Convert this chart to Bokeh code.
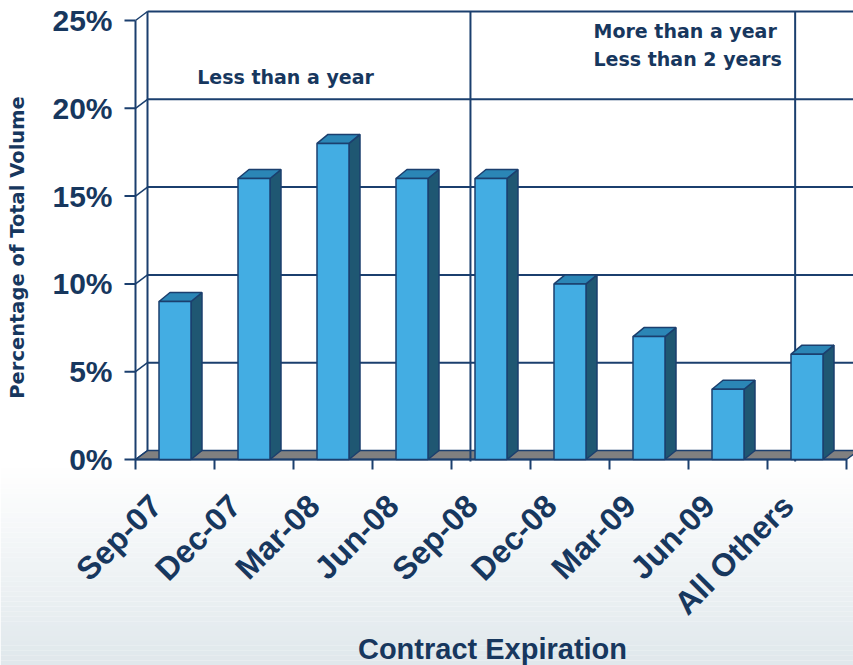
import numpy as np
from bokeh.plotting import figure
from bokeh.models import Range1d
from bokeh.core.properties import value
from bokeh.embed import file_html
from bokeh.resources import INLINE

# ---- data ----
categories = ["Sep-07", "Dec-07", "Mar-08", "Jun-08", "Sep-08",
              "Dec-08", "Mar-09", "Jun-09", "All Others"]
volume_pct = [9, 16, 18, 16, 16, 10, 7, 4, 6]
y_ticks = [0, 5, 10, 15, 20, 25]
y_tick_labels = ["0%", "5%", "10%", "15%", "20%", "25%"]
period_labels = ["Less than a year", "More than a year", "Less than 2 years"]
period_breaks = [4.24, 8.35]

# ---- layout (pixel geometry -> data units) ----
W, H = 853, 665
X0, CW = 135.0, 79.0          # x pixel of category 0 edge, pixels per category
Y0, PU = 459.0, 17.56         # y pixel of 0%, pixels per percent
def ux(px): return px / CW
def uy(px): return px / PU

x_lo, x_hi = -X0 / CW, (W - X0) / CW
y_lo, y_hi = -(H - Y0) / PU, Y0 / PU

WDX, WDY = ux(12), uy(9)      # wall depth
BDX, BDY = ux(11), uy(9)      # bar depth
HW = ux(16)                   # bar half width
NCAT = len(categories)
YMAX = y_ticks[-1]

NAVY = "#1B3F6E"
TEXT = "#17375E"
FRONT = "#43ADE3"
SIDE = "#1F5772"
TOP = "#2B86B6"
FLOOR = "#808080"

p = figure(width=W, height=H, x_range=Range1d(x_lo, x_hi), y_range=Range1d(y_lo, y_hi),
           output_backend="svg", toolbar_location=None, title=None,
           x_axis_location=None, y_axis_location=None, min_border=0)
p.grid.visible = False
p.outline_line_color = None
p.background_fill_color = "white"
p.border_fill_color = "white"

# background gradient in lower part
g_top, g_bot = 468.0, float(H)
n_strips = 40
c0 = np.array([255, 255, 255]); c1 = np.array([224, 232, 236])
edges = np.linspace(g_top, g_bot, n_strips + 1)
cols = []
for k in range(n_strips):
    t = (k + 0.5) / n_strips
    c = (c0 + (c1 - c0) * t).astype(int)
    cols.append("#%02x%02x%02x" % tuple(c))
p.quad(left=x_lo, right=x_hi, top=[(Y0 - e) / PU for e in edges[:-1]],
       bottom=[(Y0 - e) / PU for e in edges[1:]], fill_color=cols, line_color=None)

# floor
p.patch(x=[0, WDX, NCAT + WDX, NCAT], y=[0, WDY, WDY, 0], fill_color=FLOOR,
        line_color=NAVY, line_width=1.5)

# back wall gridlines
gl = [v for v in y_ticks if v > 0]
p.segment(x0=[WDX] * len(gl), y0=[v + WDY for v in gl], x1=[x_hi] * len(gl),
          y1=[v + WDY for v in gl], line_color=NAVY, line_width=2)
# side wall connectors
p.segment(x0=[0] * len(y_ticks), y0=y_ticks, x1=[WDX] * len(y_ticks),
          y1=[v + WDY for v in y_ticks], line_color=NAVY, line_width=1.5)
# y tick marks
p.segment(x0=[ux(-11)] * len(y_ticks), y0=y_ticks, x1=[0] * len(y_ticks), y1=y_ticks,
          line_color=NAVY, line_width=2)
# front axis and back-left edge
p.segment(x0=[0, WDX], y0=[0, WDY], x1=[0, WDX], y1=[YMAX, YMAX + WDY],
          line_color=NAVY, line_width=2)
# front bottom edge
p.segment(x0=[0], y0=[0], x1=[NCAT], y1=[0], line_color=NAVY, line_width=2)
# x tick marks at category boundaries
bounds = list(range(NCAT + 1))
p.segment(x0=bounds, y0=[0] * len(bounds), x1=bounds, y1=[uy(-10)] * len(bounds),
          line_color=NAVY, line_width=2)

# period dividers
p.segment(x0=period_breaks, y0=[uy(-2)] * 2, x1=period_breaks, y1=[YMAX + WDY] * 2,
          line_color=NAVY, line_width=2)

# bars (3D)
centers = [i + 0.5 for i in range(NCAT)]
xl = [c - HW for c in centers]
xr = [c + HW for c in centers]
side_xs = [[r, r + BDX, r + BDX, r] for r in xr]
side_ys = [[0, BDY, v + BDY, v] for v in volume_pct]
top_xs = [[l, l + BDX, r + BDX, r] for l, r in zip(xl, xr)]
top_ys = [[v, v + BDY, v + BDY, v] for v in volume_pct]
p.patches(xs=side_xs, ys=side_ys, fill_color=SIDE, line_color=NAVY, line_width=1.5)
p.patches(xs=top_xs, ys=top_ys, fill_color=TOP, line_color=NAVY, line_width=1.5)
p.quad(left=xl, right=xr, bottom=0, top=volume_pct, fill_color=FRONT,
       line_color=NAVY, line_width=1.5)

# y tick labels
p.text(x=[ux(-23)] * len(y_ticks), y=y_ticks, text=y_tick_labels,
       text_font=value("Liberation Sans"), text_font_style="bold", text_font_size="30px",
       text_color=TEXT, text_align="right", text_baseline="middle")

# category labels
p.text(x=[c + ux(-19) for c in centers], y=[uy(-41)] * NCAT, text=categories,
       angle=np.pi / 4, text_font=value("Liberation Sans"), text_font_style="bold",
       text_font_size="32px", text_color=TEXT, text_align="right", text_baseline="middle")

# period labels
p.text(x=[ux(285 - X0)], y=[uy(Y0 - 76)], text=[period_labels[0]],
       text_font=value("DejaVu Sans"), text_font_style="bold", text_font_size="19px",
       text_color=TEXT, text_align="center", text_baseline="middle")
p.text(x=[ux(593 - X0)] * 2, y=[uy(Y0 - 30), uy(Y0 - 58)], text=period_labels[1:],
       text_font=value("DejaVu Sans"), text_font_style="bold", text_font_size="19px",
       text_color=TEXT, text_align="left", text_baseline="middle")

# axis titles
p.text(x=[ux(17 - X0)], y=[uy(Y0 - 247)], text=["Percentage of Total Volume"], angle=np.pi / 2,
       text_font=value("DejaVu Sans"), text_font_style="bold", text_font_size="19.5px",
       text_color=TEXT, text_align="center", text_baseline="middle")
p.text(x=[ux(492 - X0)], y=[uy(Y0 - 648)], text=["Contract Expiration"],
       text_font=value("Liberation Sans"), text_font_style="bold", text_font_size="29px",
       text_color=TEXT, text_align="center", text_baseline="middle")

open("out.html", "w").write(file_html(p, INLINE))
